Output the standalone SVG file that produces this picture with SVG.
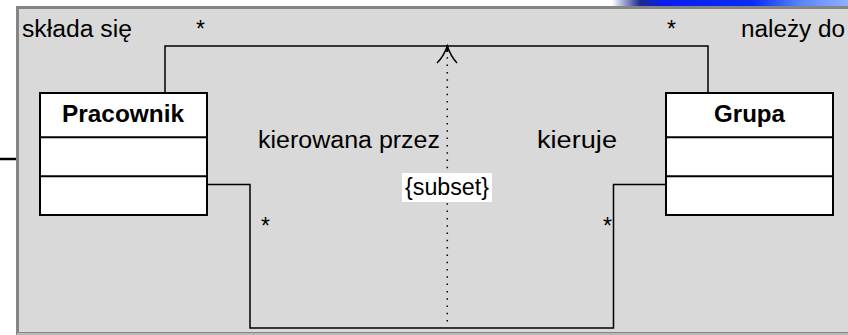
<svg xmlns="http://www.w3.org/2000/svg" width="848" height="335" viewBox="0 0 848 335">
  <defs>
    <linearGradient id="blueGrad" x1="0" y1="0" x2="1" y2="0">
      <stop offset="0" stop-color="#ffffff"/>
      <stop offset="0.12" stop-color="#1a2a90"/>
      <stop offset="0.22" stop-color="#0a1cf0"/>
      <stop offset="0.6" stop-color="#0a2cf5"/>
      <stop offset="0.8" stop-color="#5a86f8"/>
      <stop offset="1" stop-color="#8fb0ff"/>
    </linearGradient>
  </defs>
  <style>
    .txt { font-family: "Liberation Sans", Arial, sans-serif; font-size: 23px; fill: #000; }
    .bold { font-weight: bold; }
    .box { fill: #ffffff; stroke: #000; stroke-width: 2; }
    .sep { stroke: #000; stroke-width: 2; }
    .conn { fill: none; stroke: #000; stroke-width: 1.5; }
    .dot { fill: none; stroke: #000; stroke-width: 1.5; stroke-dasharray: 1.5 5.8; }
  </style>

  <rect x="0" y="0" width="848" height="335" fill="#ffffff"/>
  <!-- blue strip top right -->
  <path d="M612 0 L848 0 L848 7 L612 7 Z" fill="url(#blueGrad)"/>
  <!-- left stub line -->
  <line x1="0" y1="159" x2="17" y2="159" stroke="#000" stroke-width="2.5"/>
  <!-- panel -->
  <rect x="17.5" y="7.5" width="840" height="326" fill="#d9d9d9" stroke="#858585" stroke-width="3"/>
  <line x1="17" y1="334" x2="848" y2="334" stroke="#ececec" stroke-width="1"/>

  <g id="connectors">
    <path class="conn" d="M165 93 L165 46 L708 46 L708 93"/>
    <path class="conn" d="M207 184.5 L250 184.5 L250 328 L613.5 328 L613.5 184.5 L666 184.5"/>
    <line class="dot" x1="447.3" y1="50" x2="447.3" y2="327"/>
    <path class="conn" d="M437 63 Q444 56 447.3 46 Q450.6 56 457 63"/>
    <line x1="447.3" y1="45" x2="447.3" y2="52" stroke="#000" stroke-width="2"/>
  </g>

  <g id="Pracownik">
    <rect class="box" x="40" y="93" width="167" height="122"/>
    <line class="sep" x1="40" y1="137.3" x2="207" y2="137.3"/>
    <line class="sep" x1="40" y1="176.3" x2="207" y2="176.3"/>
    <text class="txt bold" x="62" y="122" textLength="122" lengthAdjust="spacingAndGlyphs">Pracownik</text>
  </g>

  <g id="Grupa">
    <rect class="box" x="666" y="93" width="167" height="122"/>
    <line class="sep" x1="666" y1="137.3" x2="833" y2="137.3"/>
    <line class="sep" x1="666" y1="176.3" x2="833" y2="176.3"/>
    <text class="txt bold" x="714" y="122" textLength="71" lengthAdjust="spacingAndGlyphs">Grupa</text>
  </g>

  <g id="labels">
    <text class="txt" x="22" y="37" textLength="110" lengthAdjust="spacingAndGlyphs">składa się</text>
    <text class="txt" x="196" y="37">*</text>
    <text class="txt" x="667" y="37">*</text>
    <text class="txt" x="741" y="37" textLength="104" lengthAdjust="spacingAndGlyphs">należy do</text>
    <text class="txt" x="258" y="148" textLength="182" lengthAdjust="spacingAndGlyphs">kierowana przez</text>
    <text class="txt" x="537" y="148" textLength="80" lengthAdjust="spacingAndGlyphs">kieruje</text>
    <rect x="402" y="173" width="90" height="29" fill="#ffffff"/>
    <text class="txt" x="405" y="195" textLength="84" lengthAdjust="spacingAndGlyphs">{subset}</text>
    <text class="txt" x="261" y="234">*</text>
    <text class="txt" x="603" y="234">*</text>
  </g>
</svg>
